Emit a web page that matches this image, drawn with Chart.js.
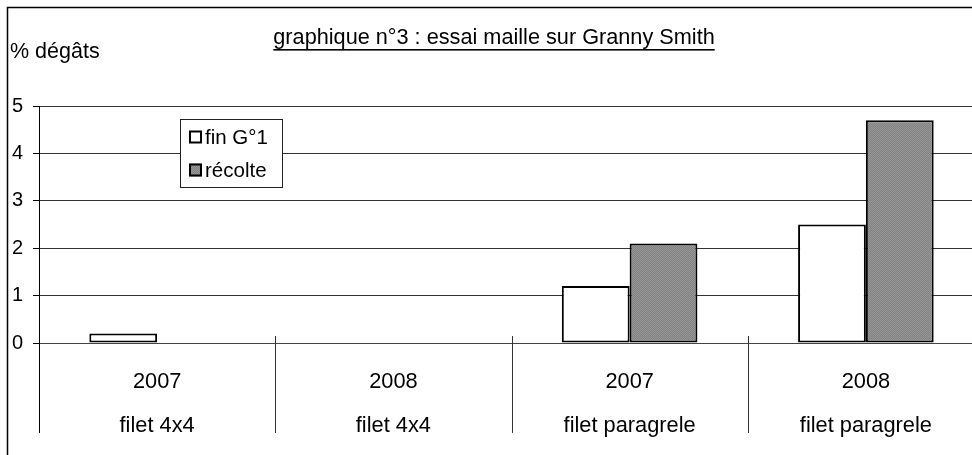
<!DOCTYPE html>
<html><head><meta charset="utf-8">
<script src="https://cdn.jsdelivr.net/npm/chart.js@4/dist/chart.umd.min.js"></script>
<style>html,body{margin:0;padding:0;overflow:hidden;background:#fff}</style>
</head><body>
<canvas id="c" width="1000" height="455" style="width:1000px;height:455px;display:block"></canvas>
<script>
// ---- data ----
const years = ['2007', '2008', '2007', '2008'];
const nets = ['filet 4x4', 'filet 4x4', 'filet paragrele', 'filet paragrele'];
const seriesNames = ['fin G°1', 'récolte'];
const finG1 = [0.2, 0, 1.2, 2.5];
const recolte = [0, 0, 2.1, 4.7];
const yTicks = [0, 1, 2, 3, 4, 5];
const titleText = 'graphique n°3 : essai maille sur Granny Smith';
const yTitle = '% dégâts';

const FONT = '"Liberation Sans", Arial, sans-serif';

function grayPattern() {
  const p = document.createElement('canvas');
  p.width = 2; p.height = 2;
  const g = p.getContext('2d');
  g.fillStyle = '#828282'; g.fillRect(0, 0, 2, 2);
  g.fillStyle = '#969696'; g.fillRect(0, 0, 1, 1); g.fillRect(1, 1, 1, 1);
  return g.createPattern(p, 'repeat');
}
const grayFill = grayPattern();

const decor = {
  id: 'decor',
  afterDraw(chart) {
    const ctx = chart.ctx;
    const xs = chart.scales.x;
    const bottom = chart.chartArea.bottom;
    ctx.save();
    // outer frame
    ctx.strokeStyle = '#000'; ctx.lineWidth = 1.5;
    ctx.strokeRect(7.5, 7.5, 2000, 2000);
    // title (underlined)
    ctx.fillStyle = '#000';
    ctx.font = '21.7px ' + FONT;
    ctx.textAlign = 'center'; ctx.textBaseline = 'alphabetic';
    const tx = 494, ty = 44;
    ctx.fillText(titleText, tx, ty);
    const w = ctx.measureText(titleText).width;
    ctx.fillRect(tx - w / 2, ty + 5, w, 1.6);
    // y title
    ctx.textAlign = 'left';
    ctx.font = '21.5px ' + FONT;
    ctx.fillText(yTitle, 10, 58);
    // y axis extension & category separators
    ctx.strokeStyle = '#000'; ctx.lineWidth = 1;
    const x0 = Math.round(chart.chartArea.left) + 0.5;
    ctx.beginPath(); ctx.moveTo(x0, bottom); ctx.lineTo(x0, bottom + 90); ctx.stroke();
    ctx.strokeStyle = '#333';
    for (let i = 1; i <= years.length; i++) {
      const x = Math.round(xs.getPixelForValue(i - 0.5)) + 0.5;
      ctx.beginPath(); ctx.moveTo(x, bottom - 7); ctx.lineTo(x, bottom + 90); ctx.stroke();
    }
    // legend
    const lx = 180.5, ly = 119.5, lw = 102, lh = 68;
    ctx.fillStyle = '#fff'; ctx.fillRect(lx, ly, lw, lh);
    ctx.strokeStyle = '#222'; ctx.lineWidth = 1; ctx.strokeRect(lx, ly, lw, lh);
    ctx.font = '20.5px ' + FONT; ctx.textBaseline = 'middle'; ctx.textAlign = 'left';
    chart.data.datasets.forEach((ds, i) => {
      const cy = 137 + i * 33;
      ctx.fillStyle = ds.backgroundColor;
      ctx.fillRect(189, cy - 6.5, 13, 13);
      ctx.strokeStyle = '#000'; ctx.lineWidth = 2;
      ctx.strokeRect(190, cy - 5.5, 11, 11);
      ctx.fillStyle = '#000';
      ctx.fillText(ds.label, 205, cy + 1);
    });
    ctx.restore();
  }
};

new Chart(document.getElementById('c'), {
  type: 'bar',
  data: {
    labels: years.map((y, i) => [y, nets[i]]),
    datasets: [
      { label: seriesNames[0], data: finG1, backgroundColor: '#ffffff', borderColor: '#000', borderWidth: 2, borderSkipped: false },
      { label: seriesNames[1], data: recolte, backgroundColor: grayFill, borderColor: '#000', borderWidth: 2, borderSkipped: false }
    ]
  },
  options: {
    responsive: false,
    animation: false,
    layout: { padding: { left: 0, right: 16, top: 106, bottom: 0 } },
    datasets: { bar: { categoryPercentage: 0.574, barPercentage: 1 } },
    plugins: { legend: { display: false }, tooltip: { enabled: false }, title: { display: false } },
    scales: {
      x: {
        grid: { display: false },
        border: { display: true, color: '#444', width: 1 },
        ticks: { color: '#000', font: { family: FONT, size: 21.8, lineHeight: 44 / 21.8 }, padding: 9, maxRotation: 0, autoSkip: false },
        afterFit(s) { s.height = 112; }
      },
      y: {
        min: 0, max: 5,
        afterBuildTicks(s) { s.ticks = yTicks.map(v => ({ value: v })); },
        grid: { color: '#333', lineWidth: 1, drawTicks: true, tickLength: 6, tickColor: '#000' },
        border: { display: true, color: '#000', width: 1 },
        ticks: { color: '#000', font: { family: FONT, size: 20 }, padding: 10 },
        afterFit(s) { s.width = 39; }
      }
    }
  },
  plugins: [decor]
});
</script>
</body></html>
